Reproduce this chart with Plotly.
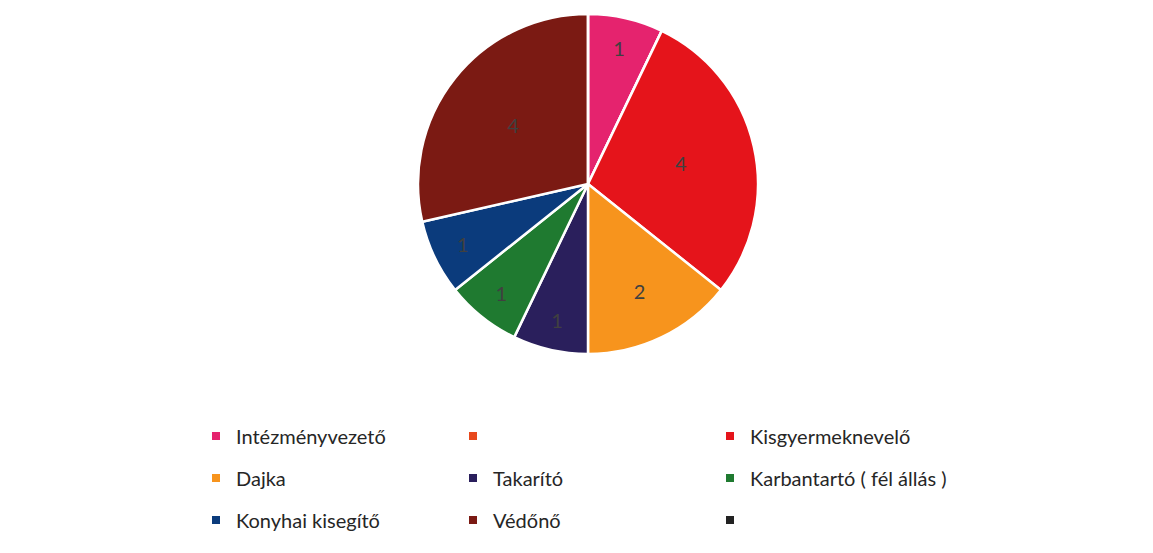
import plotly.graph_objects as go

# pie slices (clockwise from 12 o'clock)
labels = ["Intézményvezető", " ", "Kisgyermeknevelő", "Dajka", "Takarító",
          "Karbantartó ( fél állás )", "Konyhai kisegítő", "Védőnő", "  "]
values = [1, 0, 4, 2, 1, 1, 1, 4, 0]
colors = ["#E5236E", "#E8481C", "#E5141B", "#F7941D", "#2A1F5C",
          "#1F7A30", "#0B3B7C", "#7B1A13", "#222222"]

# legend layout: 3 rows of 3 entries
legend_rows = [[0, 1, 2], [3, 4, 5], [6, 7, 8]]
row_y = [428, 470, 512]

W, H = 1153, 553
cx, cy, r = 580, 176, 170

fig = go.Figure()

fig.add_trace(go.Pie(
    labels=labels, values=values, sort=False, direction="clockwise", rotation=0,
    marker=dict(colors=colors, line=dict(color="white", width=2.5)),
    text=[str(v) if v else "" for v in values], textinfo="text",
    textposition="inside", insidetextorientation="horizontal",
    textfont=dict(family="Lato", size=20, color="#404040"),
    showlegend=False, hoverinfo="label+value",
    domain=dict(x=[(cx - r) / W, (cx + r) / W], y=[1 - (cy + r) / H, 1 - (cy - r) / H]),
))

# legend entries, one legend per row
legend_names = ["legend", "legend2", "legend3"]
for ri, row in enumerate(legend_rows):
    for i in row:
        fig.add_trace(go.Scatter(
            x=[None], y=[None], mode="markers", name=labels[i].strip(),
            marker=dict(symbol="square", size=8, color=colors[i]),
            legend=legend_names[ri], showlegend=True,
        ))

leg = dict(orientation="h", entrywidth=212, entrywidthmode="pixels",
           font=dict(family="Lato", size=20, color="#262626"),
           xanchor="left", yanchor="middle", itemsizing="trace",
           bgcolor="rgba(0,0,0,0)")
layout_legends = {}
for ri, name in enumerate(legend_names):
    layout_legends[name] = dict(leg, x=188 / W, y=1 - row_y[ri] / H)

fig.update_layout(
    width=W, height=H,
    margin=dict(l=0, r=0, t=0, b=0),
    paper_bgcolor="white", plot_bgcolor="white",
    xaxis=dict(visible=False), yaxis=dict(visible=False),
    **layout_legends,
)

fig.write_html("out.html")
